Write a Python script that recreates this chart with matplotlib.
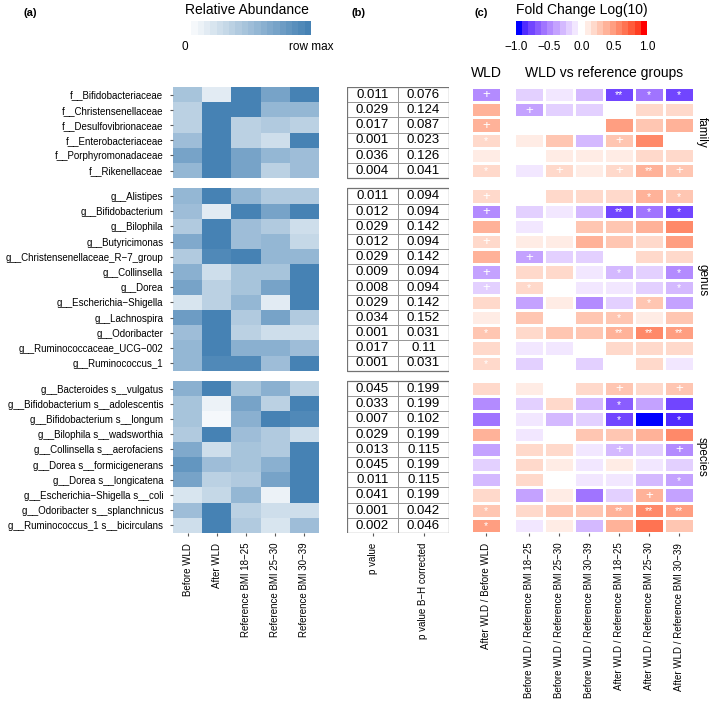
import matplotlib

matplotlib.use("Agg")
import matplotlib.pyplot as plt
import numpy as np
from matplotlib.cm import ScalarMappable
from matplotlib.colors import LinearSegmentedColormap, ListedColormap, Normalize
from matplotlib.patches import Rectangle

plt.rcParams["font.family"] = ["Liberation Sans", "DejaVu Sans"]

# ---- data ----
family_taxa = [
    "f__Bifidobacteriaceae", "f__Christensenellaceae", "f__Desulfovibrionaceae",
    "f__Enterobacteriaceae", "f__Porphyromonadaceae", "f__Rikenellaceae",
]
genus_taxa = [
    "g__Alistipes", "g__Bifidobacterium", "g__Bilophila", "g__Butyricimonas",
    "g__Christensenellaceae_R\u22127_group", "g__Collinsella", "g__Dorea",
    "g__Escherichia\u2212Shigella", "g__Lachnospira", "g__Odoribacter",
    "g__Ruminococcaceae_UCG\u2212002", "g__Ruminococcus_1",
]
species_taxa = [
    "g__Bacteroides s__vulgatus", "g__Bifidobacterium s__adolescentis",
    "g__Bifidobacterium s__longum", "g__Bilophila s__wadsworthia",
    "g__Collinsella s__aerofaciens", "g__Dorea s__formicigenerans",
    "g__Dorea s__longicatena", "g__Escherichia\u2212Shigella s__coli",
    "g__Odoribacter s__splanchnicus", "g__Ruminococcus_1 s__bicirculans",
]
block_names = ["family", "genus", "species"]

abund_groups = ["Before WLD", "After WLD", "Reference BMI 18\u221225",
                "Reference BMI 25\u221230", "Reference BMI 30\u221239"]
pval_labels = ["p value", "p value B\u2212H corrected"]
wld_label = ["After WLD / Before WLD"]
ref_labels = [
    "Before WLD / Reference BMI 18\u221225", "Before WLD / Reference BMI 25\u221230",
    "Before WLD / Reference BMI 30\u221239", "After WLD / Reference BMI 18\u221225",
    "After WLD / Reference BMI 25\u221230", "After WLD / Reference BMI 30\u221239",
]

# relative abundance, scaled to row max
abund_family = [
    [0.45, 0.15, 0.95, 0.70, 1.00],
    [0.35, 0.95, 1.00, 0.55, 0.55],
    [0.35, 1.00, 0.35, 0.40, 0.35],
    [0.50, 0.95, 0.35, 0.25, 1.00],
    [0.70, 1.00, 0.70, 0.55, 0.50],
    [0.55, 1.00, 0.70, 0.35, 0.50],
]
abund_genus = [
    [0.55, 1.00, 0.55, 0.40, 0.40],
    [0.50, 0.15, 0.95, 0.70, 1.00],
    [0.40, 1.00, 0.50, 0.40, 0.25],
    [0.65, 1.00, 0.50, 0.55, 0.30],
    [0.40, 0.90, 1.00, 0.55, 0.55],
    [0.60, 0.25, 0.45, 0.45, 1.00],
    [0.70, 0.35, 0.45, 0.70, 1.00],
    [0.20, 0.35, 0.55, 0.15, 1.00],
    [0.75, 1.00, 0.40, 0.70, 0.40],
    [0.50, 1.00, 0.35, 0.25, 0.25],
    [0.55, 1.00, 0.60, 0.60, 0.50],
    [0.55, 0.90, 0.90, 0.50, 1.00],
]
abund_species = [
    [0.60, 1.00, 0.45, 0.60, 0.35],
    [0.45, 0.12, 0.70, 0.35, 1.00],
    [0.45, 0.08, 0.60, 1.00, 0.90],
    [0.40, 1.00, 0.50, 0.40, 0.25],
    [0.65, 0.25, 0.45, 0.40, 1.00],
    [0.80, 0.50, 0.45, 0.60, 1.00],
    [0.70, 0.35, 0.40, 0.70, 1.00],
    [0.20, 0.30, 0.55, 0.12, 1.00],
    [0.50, 1.00, 0.35, 0.25, 0.25],
    [0.25, 1.00, 0.40, 0.20, 0.50],
]

p_family = [0.011, 0.029, 0.017, 0.001, 0.036, 0.004]
padj_family = [0.076, 0.124, 0.087, 0.023, 0.126, 0.041]
p_genus = [0.011, 0.012, 0.029, 0.012, 0.029, 0.009, 0.008, 0.029, 0.034, 0.001, 0.017, 0.001]
padj_genus = [0.094, 0.094, 0.142, 0.094, 0.142, 0.094, 0.094, 0.142, 0.152, 0.031, 0.11, 0.031]
p_species = [0.045, 0.033, 0.007, 0.029, 0.013, 0.045, 0.011, 0.041, 0.001, 0.002]
padj_species = [0.199, 0.199, 0.102, 0.199, 0.115, 0.199, 0.115, 0.199, 0.042, 0.046]

# log10 fold change, After WLD / Before WLD
wld_family = [-0.45, 0.38, 0.38, 0.22, 0.10, 0.22]
wld_genus = [0.20, -0.50, 0.38, 0.15, 0.42, -0.35, -0.20, 0.22, 0.05, 0.28, 0.22, 0.22]
wld_species = [0.20, -0.45, -0.60, 0.38, -0.40, -0.15, -0.25, 0.22, 0.28, 0.45]
wld_sig_family = ["+", "", "+", "*", "", "*"]
wld_sig_genus = ["+", "+", "", "+", "", "+", "+", "", "", "*", "", "*"]
wld_sig_species = ["", "", "", "", "", "", "", "", "*", "*"]

# log10 fold change, WLD groups vs reference groups
ref_family = [
    [-0.20, -0.10, -0.25, -0.75, -0.60, -0.75],
    [-0.40, -0.15, -0.15, -0.03, 0.15, 0.15],
    [0.03, -0.03, 0.03, 0.45, 0.32, 0.38],
    [0.10, 0.32, -0.25, 0.32, 0.58, -0.03],
    [0.00, 0.08, 0.12, 0.12, 0.15, 0.18],
    [-0.05, 0.20, 0.05, 0.15, 0.38, 0.25],
]
ref_genus = [
    [0.00, 0.20, 0.20, 0.20, 0.38, 0.32],
    [-0.20, -0.12, -0.25, -0.75, -0.60, -0.75],
    [-0.10, 0.03, 0.28, 0.25, 0.38, 0.58],
    [0.10, 0.05, 0.38, 0.30, 0.22, 0.48],
    [-0.40, -0.15, -0.15, -0.03, 0.15, 0.15],
    [0.15, 0.15, -0.12, -0.30, -0.20, -0.45],
    [0.20, 0.00, -0.10, -0.05, -0.20, -0.30],
    [-0.40, 0.10, -0.50, -0.20, 0.28, -0.35],
    [0.28, 0.03, 0.28, 0.32, 0.10, 0.28],
    [0.18, 0.32, 0.32, 0.40, 0.58, 0.52],
    [-0.05, -0.05, 0.00, 0.15, 0.15, 0.20],
    [-0.20, 0.03, -0.20, 0.00, 0.20, -0.05],
]
ref_species = [
    [0.10, -0.02, 0.20, 0.32, 0.15, 0.32],
    [-0.20, 0.15, -0.30, -0.70, -0.35, -0.75],
    [-0.05, -0.25, -0.20, -0.80, -1.00, -0.90],
    [-0.10, 0.03, 0.28, 0.25, 0.38, 0.58],
    [0.15, 0.15, -0.12, -0.30, -0.20, -0.50],
    [0.20, 0.10, -0.05, 0.05, -0.05, -0.15],
    [0.20, -0.02, -0.12, -0.10, -0.30, -0.35],
    [-0.40, 0.12, -0.55, -0.20, 0.35, -0.35],
    [0.18, 0.32, 0.32, 0.40, 0.58, 0.52],
    [-0.10, 0.12, -0.25, 0.40, 0.68, 0.28],
]
ref_sig_family = [
    ["", "", "", "**", "*", "*"],
    ["+", "", "", "", "", ""],
    ["", "", "", "", "", ""],
    ["", "", "", "+", "", ""],
    ["", "", "", "", "", ""],
    ["", "+", "", "+", "**", "+"],
]
ref_sig_genus = [
    ["", "", "", "", "*", "*"],
    ["", "", "", "**", "*", "*"],
    ["", "", "", "", "", ""],
    ["", "", "", "", "", ""],
    ["+", "", "", "", "", ""],
    ["", "", "", "*", "", "*"],
    ["*", "", "", "", "", "*"],
    ["", "", "", "", "*", ""],
    ["", "", "", "*", "", ""],
    ["", "", "", "**", "**", "**"],
    ["", "", "", "", "", ""],
    ["", "", "", "", "", ""],
]
ref_sig_species = [
    ["", "", "", "+", "", "+"],
    ["", "", "", "*", "", ""],
    ["", "", "", "*", "", "*"],
    ["", "", "", "", "", ""],
    ["", "", "", "+", "", "+"],
    ["", "", "", "", "", ""],
    ["", "", "", "", "", "*"],
    ["", "", "", "", "+", ""],
    ["", "", "", "**", "**", "**"],
    ["", "", "", "", "", ""],
]


# ---- colour maps ----
def to_lab(rgb):
    c = np.asarray(rgb, float)
    lin = np.where(c <= 0.04045, c / 12.92, ((c + 0.055) / 1.055) ** 2.4)
    m = np.array([[0.4124, 0.3576, 0.1805], [0.2126, 0.7152, 0.0722], [0.0193, 0.1192, 0.9505]])
    xyz = m @ lin / np.array([0.95047, 1.0, 1.08883])
    f = np.where(xyz > 0.008856, np.cbrt(xyz), 7.787 * xyz + 16 / 116)
    return np.array([116 * f[1] - 16, 500 * (f[0] - f[1]), 200 * (f[1] - f[2])])


def from_lab(lab):
    fy = (lab[0] + 16) / 116
    f = np.array([fy + lab[1] / 500, fy, fy - lab[2] / 200])
    xyz = np.where(f ** 3 > 0.008856, f ** 3, (f - 16 / 116) / 7.787) * np.array([0.95047, 1.0, 1.08883])
    m = np.array([[3.2406, -1.5372, -0.4986], [-0.9689, 1.8758, 0.0415], [0.0557, -0.2040, 1.0570]])
    lin = np.clip(m @ xyz, 0, 1)
    return np.clip(np.where(lin <= 0.0031308, 12.92 * lin, 1.055 * lin ** (1 / 2.4) - 0.055), 0, 1)


blue, white, red = to_lab([0, 0, 1]), to_lab([1, 1, 1]), to_lab([1, 0, 0])
fc_colors = []
for t in np.linspace(-1, 1, 21):
    end = blue if t < 0 else red
    fc_colors.append(from_lab(white + abs(t) * (end - white)))
fc_cmap = ListedColormap(fc_colors)
fc_norm = Normalize(-1, 1)

ab_cmap = LinearSegmentedColormap.from_list("ab", ["#ffffff", "#4682b4"]).resampled(20)
ab_norm = Normalize(0, 1)

# ---- layout (pixel based) ----
W, H = 709, 702
fig = plt.figure(figsize=(W / 100, H / 100), dpi=100)


def px_axes(x0, y0, x1, y1):
    return fig.add_axes([x0 / W, 1 - y1 / H, (x1 - x0) / W, (y1 - y0) / H])


gap = 0.68
sizes = [len(family_taxa), len(genus_taxa), len(species_taxa)]
offsets = [0, sizes[0] + gap, sizes[0] + sizes[1] + 2 * gap]
total = sum(sizes) + 2 * gap
top, bottom = 87, 533
tick_kw = dict(length=2.5, width=0.8, color="0.35", labelsize=7, pad=4.5)


def setup(ax, xlabels, ylabels=None):
    ax.set_ylim(total, 0)
    ax.set_xlim(0, len(xlabels))
    for s in ax.spines.values():
        s.set_visible(False)
    ax.set_xticks(np.arange(len(xlabels)) + 0.5)
    ax.set_xticklabels(xlabels, rotation=90, va="top")
    if ylabels is None:
        ax.set_yticks([])
    else:
        ax.set_yticks(np.concatenate([o + np.arange(n) + 0.5 for o, n in zip(offsets, sizes)]))
        ax.set_yticklabels(ylabels)
    ax.tick_params(**tick_kw)


def heat(ax, blocks, cmap, norm, edge="none", lw=0):
    for off, data in zip(offsets, blocks):
        arr = np.atleast_2d(np.array(data, float))
        if arr.shape[0] == 1:
            arr = arr.T
        nr, nc = arr.shape
        ax.pcolormesh(np.arange(nc + 1), off + np.arange(nr + 1), arr, cmap=cmap, norm=norm,
                      edgecolors=edge, linewidth=lw)


def marks(ax, blocks):
    for off, sig in zip(offsets, blocks):
        for i, row in enumerate(sig):
            row = row if isinstance(row, list) else [row]
            for j, s in enumerate(row):
                if s:
                    ax.text(j + 0.5, off + i + 0.55, s, color="white", ha="center", va="center",
                            fontsize=9.5 if s == "+" else 7.5)


# (a) relative abundance
ax_a = px_axes(173, top, 319, bottom)
heat(ax_a, [abund_family, abund_genus, abund_species], ab_cmap, ab_norm)
setup(ax_a, abund_groups, family_taxa + genus_taxa + species_taxa)

# (b) p-value table
ax_b = px_axes(347, top, 449, bottom)
for off, p, q in zip(offsets, [p_family, p_genus, p_species], [padj_family, padj_genus, padj_species]):
    n = len(p)
    ax_b.pcolormesh([0, 1, 2], off + np.arange(n + 1), np.zeros((n, 2)),
                    cmap=ListedColormap(["white"]), edgecolors="0.6", linewidth=0.7)
    ax_b.add_patch(Rectangle((0, off), 2, n, fill=False, edgecolor="0.45", linewidth=0.9))
    for i in range(n):
        ax_b.text(0.5, off + i + 0.52, f"{p[i]:g}", ha="center", va="center", fontsize=9.5)
        ax_b.text(1.5, off + i + 0.52, f"{q[i]:g}", ha="center", va="center", fontsize=9.5)
setup(ax_b, pval_labels)

# (c) fold change
ax_w = px_axes(471, top, 501, bottom)
heat(ax_w, [wld_family, wld_genus, wld_species], fc_cmap, fc_norm, "white", 0.8)
marks(ax_w, [wld_sig_family, wld_sig_genus, wld_sig_species])
setup(ax_w, wld_label)

ax_r = px_axes(514, top, 694, bottom)
heat(ax_r, [ref_family, ref_genus, ref_species], fc_cmap, fc_norm, "white", 0.8)
marks(ax_r, [ref_sig_family, ref_sig_genus, ref_sig_species])
setup(ax_r, ref_labels)
for off, n, name in zip(offsets, sizes, block_names):
    ax_r.text(len(ref_labels) + 0.27, off + n / 2, name, rotation=-90, ha="center", va="center",
              fontsize=8.5, clip_on=False)

ax_w.text(0.5, -0.45, "WLD", ha="center", va="bottom", fontsize=10)
ax_r.text(3, -0.45, "WLD vs reference groups", ha="center", va="bottom", fontsize=10)

# colour bars
cax_a = px_axes(185, 21, 311, 35)
cb_a = fig.colorbar(ScalarMappable(ab_norm, ab_cmap), cax=cax_a, orientation="horizontal")
cb_a.set_ticks([0, 1])
cb_a.set_ticklabels(["0", "row max"])
cb_a.outline.set_visible(False)
cax_a.tick_params(length=0, labelsize=8.5, pad=4)
fig.text(247 / W, 1 - 10 / H, "Relative Abundance", fontsize=10, ha="center", va="center")

cax_c = px_axes(516, 21, 647, 35)
cb_c = fig.colorbar(ScalarMappable(fc_norm, fc_cmap), cax=cax_c, orientation="horizontal")
cb_c.set_ticks([-1, -0.5, 0, 0.5, 1])
cb_c.set_ticklabels(["\u22121.0", "\u22120.5", "0.0", "0.5", "1.0"])
cb_c.outline.set_visible(False)
cax_c.tick_params(length=0, labelsize=8.5, pad=4)
fig.text(582 / W, 1 - 10 / H, "Fold Change Log(10)", fontsize=10, ha="center", va="center")

# panel letters
for x, lab in [(23, "(a)"), (352, "(b)"), (475, "(c)")]:
    fig.text(x / W, 1 - 13 / H, lab, fontsize=8, fontweight="bold", va="center")

fig.savefig("out.png", dpi=100)
